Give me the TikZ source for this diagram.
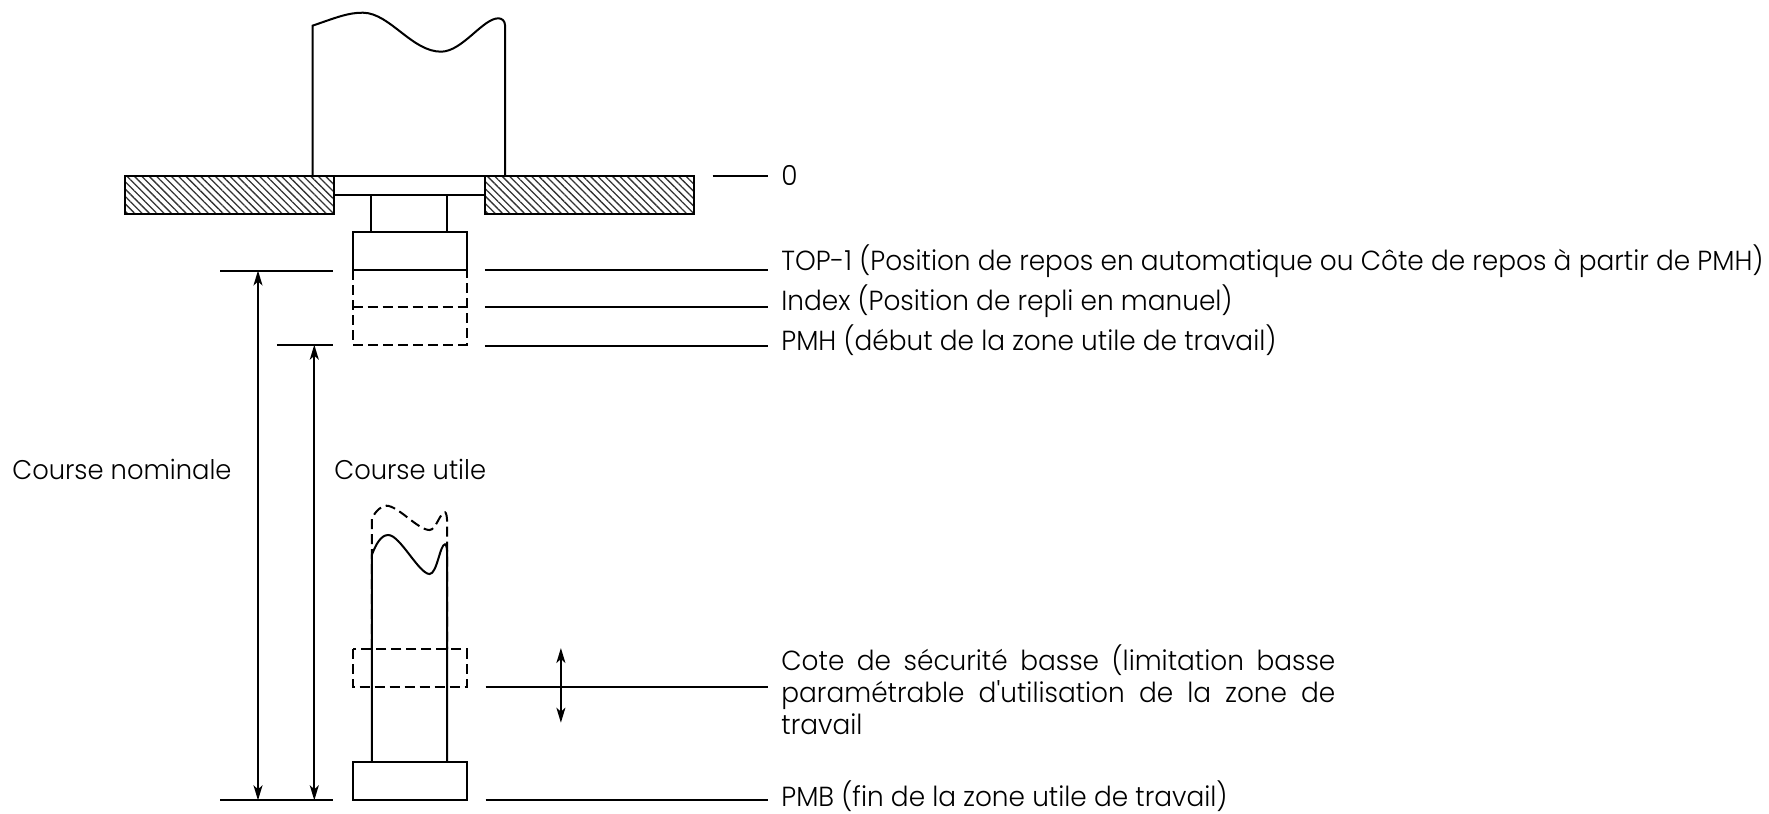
\documentclass[tikz,border=0pt]{standalone}
\usepackage{fontspec}
\setmainfont[FakeStretch=0.955,Ligatures=TeXOff]{Poppins Light}
\usetikzlibrary{arrows.meta,patterns.meta}

\tikzset{
  trait/.style={line width=1pt},
  hachure/.style={trait, pattern={Lines[angle=-45,distance=2.6pt,line width=.65pt]}, pattern color=black!80},
  pointille/.style={trait, dash pattern=on 5pt off 2.5pt},
  pointe/.tip={Stealth[length=7.5pt,width=4.5pt,inset=2pt]},
  fleche/.style={line width=.9pt, pointe-pointe},
  legende/.style={anchor=west, inner sep=0pt, font=\fontsize{13.8}{16}\selectfont},
  course/.style={legende, font=\fontsize{13.5}{16}\selectfont},
}

\begin{document}
\begin{tikzpicture}[x=0.5pt,y=-0.5pt]
\useasboundingbox (0,0) rectangle (1769,814);

% corps superieur
\draw[trait] (312.5,175.7) -- (312.5,25.7) .. controls (335,18) and (348,12.5) .. (363,12.7)
  .. controls (390,13) and (412,52) .. (441.5,51.7)
  .. controls (463,51) and (483,18) .. (498.7,18.3)
  .. controls (502,18.5) and (505,21) .. (505,25) -- (505,175.7);

% plaque
\draw[hachure] (125,175.7) rectangle (333.5,213.7);
\draw[hachure] (484.8,175.7) rectangle (694,213.7);
\draw[trait] (333.5,175.7) -- (484.8,175.7);
\draw[trait] (333.5,194.7) -- (484.8,194.7);

% tige et piston
\draw[trait] (371.4,194.7) -- (371.4,232.3);
\draw[trait] (446.9,194.7) -- (446.9,232.3);
\draw[trait] (352.7,232.3) rectangle (466.5,270.3);

% positions en pointille
\draw[pointille] (352.7,270.3) -- (352.7,344.7) -- (466.5,344.7) -- (466.5,270.3);
\draw[pointille] (352.7,306.7) -- (466.5,306.7);

% tige basse
\draw[trait] (371.8,762.3) -- (371.8,555) .. controls (376,544) and (381,535) .. (388.3,535)
  .. controls (400,535) and (419,574) .. (429.6,574)
  .. controls (437,574) and (440,544.3) .. (445,544.3)
  .. controls (446.5,544.3) and (447.2,549) .. (447.2,555) -- (447.2,762.3);
\draw[pointille] (371.8,649) -- (371.8,518.3) .. controls (376,511) and (381,505.7) .. (386.4,505.7)
  .. controls (398,505.7) and (418,530) .. (429.6,530)
  .. controls (436,530) and (440,512.3) .. (445,512.3)
  .. controls (446.5,512.3) and (447.2,518) .. (447.2,525) -- (447.2,649);
\draw[pointille] (352.7,649) rectangle (466.5,687);
\draw[trait] (352.7,762.3) rectangle (466.5,800.3);

% legendes
\node[legende] (zero) at (781,175) {0};
\node[legende] (top) at (781,261) {TOP-1 (Position de repos en automatique ou Côte de repos à partir de PMH)};
\node[legende] (index) at (781,301) {Index (Position de repli en manuel)};
\node[legende] (pmh) at (781,340) {PMH (début de la zone utile de travail)};
\node[legende, align=left] (cote) at (781,690) {%
  \makebox[277pt][s]{Cote de sécurité basse (limitation basse}\\
  \makebox[277pt][s]{paramétrable d'utilisation de la zone de}\\
  travail};
\node[legende] (pmb) at (781,796.5) {PMB (fin de la zone utile de travail)};
\node[course] (nominale) at (12,469) {Course nominale};
\node[course] (utile) at (334,469) {Course utile};

% traits de repere
\coordinate (z0) at (712.5,175.7);
\coordinate (t0) at (484.8,270.3);
\coordinate (i0) at (484.8,307);
\coordinate (h0) at (484.8,345.7);
\coordinate (c0) at (485.5,687);
\coordinate (b0) at (485.5,800.3);
\draw[trait] (z0) -- (768,175.7);
\draw[trait] (t0) -- (768,270.3);
\draw[trait] (i0) -- (768,307);
\draw[trait] (h0) -- (768,345.7);
\draw[trait] (c0) -- (768,687);
\draw[trait] (b0) -- (768,800.3);

\coordinate (ta) at (220,270.5);
\coordinate (ha) at (276.8,344.7);
\coordinate (ba) at (220,800.3);
\draw[trait] (ta) -- (333,270.5);
\draw[trait] (ha) -- (333,344.7);
\draw[trait] (ba) -- (333.2,800.3);

% cotes
\draw[fleche] (258,270.5) -- (258,800.3);
\draw[fleche] (314.3,344.7) -- (314.3,800.3);
\draw[fleche] (560.9,648) -- (560.9,722.7);
\end{tikzpicture}
\end{document}
